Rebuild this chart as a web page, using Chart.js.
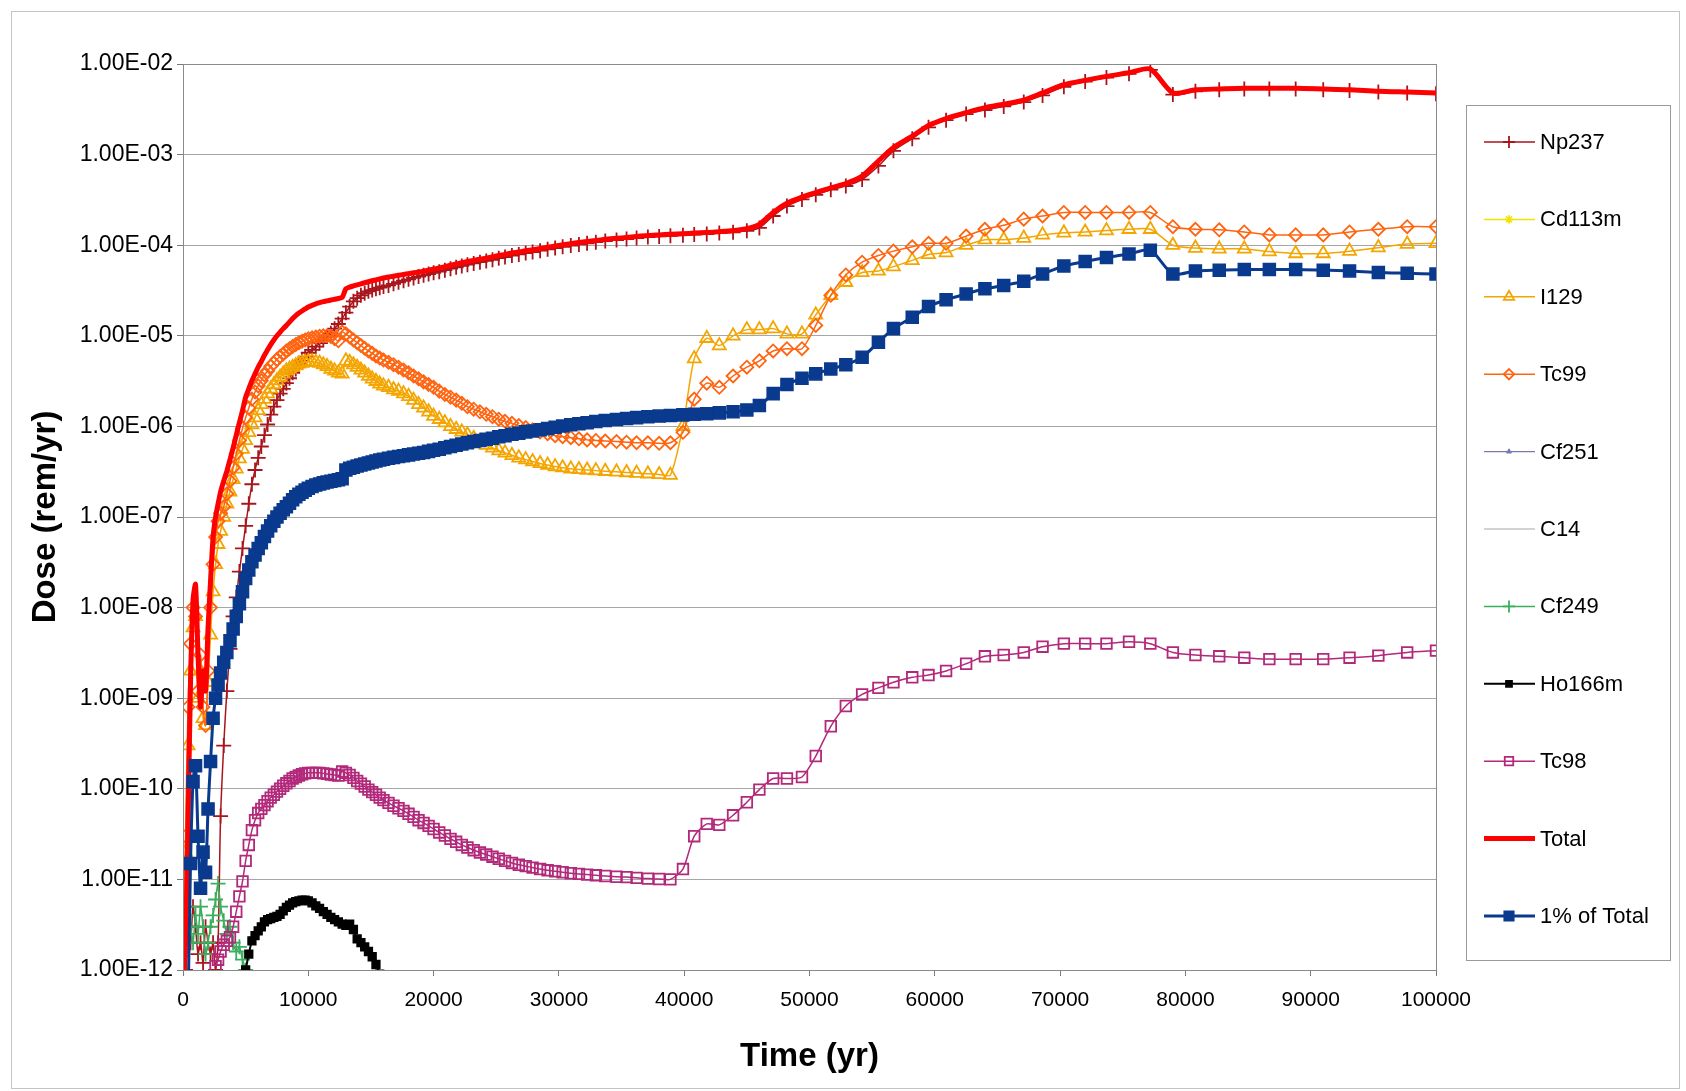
<!DOCTYPE html>
<html lang="en">
<head>
<meta charset="UTF-8" />
<title>Dose vs Time</title>
<script src="https://cdn.jsdelivr.net/npm/chart.js@4.4.1/dist/chart.umd.min.js"></script>
<style>
  html, body { margin: 0; padding: 0; background: #fff; }
  #wrap { position: relative; width: 1686px; height: 1091px; }
  #frame { position: absolute; left: 11px; top: 11px; width: 1667px; height: 1076px; border: 1px solid #c4c4c4; pointer-events: none; }
</style>
</head>
<body>
<div id="wrap">
  <canvas id="chart" width="1686" height="1091"></canvas>
  <div id="frame"></div>
</div>
<script>
// time grid shared by the main series (yr)
const years = [
  0, 200, 400, 600, 800, 1000, 1200, 1400, 1600, 1800, 2000, 2200, 2400, 2600, 2800, 3000,
  3250, 3500, 3750, 4000, 4250, 4500, 4750, 5000, 5250, 5500, 5750, 6000, 6250, 6500,
  6750, 7000, 7250, 7500, 7750, 8000, 8250, 8500, 8750, 9000, 9250, 9500, 9750, 10000,
  10300, 10600, 10900, 11200, 11500, 11800, 12100, 12400, 12700, 13000,
  13300, 13600, 13900, 14200, 14500, 14800, 15100, 15400, 15700, 16000,
  16400, 16800, 17200, 17600, 18000, 18400, 18800, 19200, 19600, 20000,
  20450, 20900, 21350, 21800, 22250, 22700, 23200, 23700, 24200, 24700,
  25200, 25700, 26250, 26800, 27350, 27900, 28500, 29100, 29700, 30300,
  30950, 31600, 32250, 32950, 33700, 34600, 35400, 36200, 37100, 38000,
  38900, 39900,
  40800, 41800, 42800, 43900, 45000, 46000, 47100, 48200, 49400,
  50500, 51700, 52900, 54200, 55500, 56700, 58200, 59500, 60900, 62500,
  64000, 65500, 67100, 68600, 70300, 72000, 73700, 75500, 77200, 79000,
  80800, 82700, 84700, 86700, 88800, 91000, 93100, 95400, 97700, 100000
];

const np237 = [
  5e-13, 1e-12, 3e-12, 2e-12, 5e-12, 3e-12, 1.5e-12, 2e-12, 1.2e-12, 3e-12, 2e-12, 1.5e-12, 2e-12, 1e-12, 2e-12, 5e-11,
  3e-10, 1.2e-9, 3.5e-9, 8e-9, 1.3e-8, 2.5e-8, 4.5e-8, 8e-8, 1.4e-7, 2.3e-7, 3.3e-7, 4.5e-7, 6e-7, 8e-7,
  1.05e-6, 1.35e-6, 1.65e-6, 1.95e-6, 2.3e-6, 2.6e-6, 3e-6, 3.4e-6, 3.9e-6, 4.3e-6, 4.8e-6, 5.3e-6, 5.9e-6, 6.5e-6,
  7e-6, 7.6e-6, 8.3e-6, 9e-6, 9.8e-6, 1.07e-5, 1.2e-5, 1.35e-5, 1.55e-5, 1.8e-5,
  2.1e-5, 2.4e-5, 2.6e-5, 2.8e-5, 2.95e-5, 3.1e-5, 3.2e-5, 3.3e-5, 3.4e-5, 3.5e-5,
  3.6e-5, 3.75e-5, 3.9e-5, 4.05e-5, 4.2e-5, 4.35e-5, 4.5e-5, 4.65e-5, 4.8e-5, 4.95e-5,
  5.1e-5, 5.3e-5, 5.5e-5, 5.7e-5, 5.9e-5, 6.1e-5, 6.3e-5, 6.5e-5, 6.7e-5, 6.9e-5,
  7.2e-5, 7.4e-5, 7.7e-5, 7.9e-5, 8.2e-5, 8.4e-5, 8.7e-5, 9e-5, 9.3e-5, 9.6e-5,
  9.9e-5, 1.02e-4, 1.05e-4, 1.08e-4, 1.11e-4, 1.14e-4, 1.17e-4, 1.2e-4, 1.23e-4, 1.25e-4,
  1.27e-4, 1.29e-4,
  1.31e-4, 1.33e-4, 1.36e-4, 1.39e-4, 1.44e-4, 1.55e-4, 2.1e-4, 2.7e-4, 3.2e-4,
  3.6e-4, 4.1e-4, 4.5e-4, 5.3e-4, 7.5e-4, 1.1e-3, 1.5e-3, 2e-3, 2.4e-3, 2.8e-3,
  3.1e-3, 3.4e-3, 3.8e-3, 4.5e-3, 5.6e-3, 6.4e-3, 7.1e-3, 7.8e-3, 8.6e-3, 4.6e-3,
  5e-3, 5.2e-3, 5.3e-3, 5.3e-3, 5.3e-3, 5.2e-3, 5.1e-3, 4.9e-3, 4.8e-3, 4.7e-3
];

const i129 = [
  1e-12, 2e-11, 3e-10, 2e-9, 6e-9, 8e-9, 1e-9, 2e-9, 6e-10, 5e-10, 1.5e-9, 5e-9, 1.5e-8, 3e-8, 5e-8, 7e-8,
  1e-7, 1.4e-7, 1.9e-7, 2.6e-7, 3.4e-7, 4.4e-7, 5.6e-7, 7e-7, 8.6e-7, 1.05e-6, 1.25e-6, 1.5e-6, 1.75e-6, 2e-6,
  2.3e-6, 2.6e-6, 2.9e-6, 3.2e-6, 3.5e-6, 3.8e-6, 4.1e-6, 4.3e-6, 4.5e-6, 4.7e-6, 4.9e-6, 5e-6, 5.1e-6, 5.2e-6,
  5.2e-6, 5.1e-6, 5e-6, 4.8e-6, 4.6e-6, 4.3e-6, 4.1e-6, 3.9e-6, 3.8e-6, 5.3e-6,
  5.1e-6, 4.8e-6, 4.5e-6, 4.2e-6, 3.9e-6, 3.6e-6, 3.35e-6, 3.15e-6, 2.95e-6, 2.8e-6,
  2.7e-6, 2.55e-6, 2.45e-6, 2.3e-6, 2.15e-6, 1.95e-6, 1.75e-6, 1.6e-6, 1.45e-6, 1.3e-6,
  1.2e-6, 1.1e-6, 1e-6, 9.3e-7, 8.7e-7, 8.1e-7, 7.4e-7, 6.8e-7, 6.2e-7, 5.8e-7,
  5.4e-7, 5.1e-7, 4.8e-7, 4.5e-7, 4.3e-7, 4.1e-7, 3.9e-7, 3.75e-7, 3.6e-7, 3.5e-7,
  3.4e-7, 3.35e-7, 3.3e-7, 3.25e-7, 3.2e-7, 3.15e-7, 3.1e-7, 3.05e-7, 3e-7, 2.95e-7,
  2.9e-7, 1e-6,
  5.6e-6, 9.4e-6, 7.8e-6, 1e-5, 1.17e-5, 1.17e-5, 1.2e-5, 1.05e-5, 1.05e-5,
  1.7e-5, 2.8e-5, 3.9e-5, 5e-5, 5.2e-5, 5.8e-5, 6.8e-5, 7.9e-5, 8.3e-5, 1e-4,
  1.15e-4, 1.15e-4, 1.2e-4, 1.3e-4, 1.37e-4, 1.4e-4, 1.45e-4, 1.5e-4, 1.5e-4, 1e-4,
  9.3e-5, 9.1e-5, 9.1e-5, 8.5e-5, 8.1e-5, 8.1e-5, 8.6e-5, 9.4e-5, 1.03e-4, 1.05e-4
];

const tc99 = [
  1.5e-12, 3e-11, 8e-10, 4e-9, 1e-8, 8e-9, 1.2e-9, 3e-9, 8e-10, 5e-10, 2e-9, 1e-8, 3e-8, 6e-8, 9e-8, 1.1e-7,
  1.3e-7, 1.8e-7, 2.5e-7, 3.5e-7, 5e-7, 7e-7, 9.5e-7, 1.25e-6, 1.6e-6, 2e-6, 2.4e-6, 2.8e-6, 3.2e-6, 3.7e-6,
  4.1e-6, 4.6e-6, 5e-6, 5.5e-6, 5.9e-6, 6.3e-6, 6.8e-6, 7.2e-6, 7.6e-6, 8e-6, 8.4e-6, 8.7e-6, 9e-6, 9.3e-6,
  9.5e-6, 9.7e-6, 9.9e-6, 1e-5, 1e-5, 9.8e-6, 9.3e-6, 8.8e-6, 1.1e-5, 1.05e-5,
  9.7e-6, 9e-6, 8.4e-6, 7.8e-6, 7.3e-6, 6.8e-6, 6.4e-6, 6e-6, 5.7e-6, 5.4e-6,
  5.1e-6, 4.8e-6, 4.5e-6, 4.2e-6, 3.9e-6, 3.6e-6, 3.35e-6, 3.1e-6, 2.9e-6, 2.7e-6,
  2.45e-6, 2.25e-6, 2.1e-6, 1.95e-6, 1.8e-6, 1.65e-6, 1.55e-6, 1.45e-6, 1.36e-6, 1.28e-6,
  1.2e-6, 1.14e-6, 1.08e-6, 1.02e-6, 9.7e-7, 9.2e-7, 8.7e-7, 8.3e-7, 7.9e-7, 7.7e-7,
  7.5e-7, 7.3e-7, 7.1e-7, 7e-7, 6.9e-7, 6.8e-7, 6.7e-7, 6.6e-7, 6.6e-7, 6.5e-7,
  6.6e-7, 8.6e-7,
  2e-6, 3e-6, 2.7e-6, 3.6e-6, 4.5e-6, 5.3e-6, 6.8e-6, 7.2e-6, 7.2e-6,
  1.3e-5, 2.8e-5, 4.7e-5, 6.5e-5, 7.7e-5, 8.6e-5, 9.6e-5, 1.05e-4, 1.05e-4, 1.26e-4,
  1.5e-4, 1.66e-4, 1.94e-4, 2.1e-4, 2.3e-4, 2.3e-4, 2.3e-4, 2.3e-4, 2.3e-4, 1.6e-4,
  1.5e-4, 1.48e-4, 1.4e-4, 1.3e-4, 1.3e-4, 1.3e-4, 1.4e-4, 1.5e-4, 1.6e-4, 1.6e-4
];

const tc98 = [
  null, null, null, null, null, null, null, null, null, null, null, null, null, 1.1e-12, 1.3e-12, 1.6e-12,
  1.9e-12, 2.1e-12, 2.3e-12, 3e-12, 4.4e-12, 6.5e-12, 9.5e-12, 1.6e-11, 2.4e-11, 3.5e-11, 4.5e-11, 5.4e-11, 6e-11, 6.6e-11,
  7.3e-11, 8e-11, 8.6e-11, 9.3e-11, 1e-10, 1.08e-10, 1.15e-10, 1.22e-10, 1.3e-10, 1.35e-10, 1.4e-10, 1.45e-10, 1.48e-10, 1.5e-10,
  1.5e-10, 1.5e-10, 1.5e-10, 1.48e-10, 1.46e-10, 1.44e-10, 1.42e-10, 1.4e-10, 1.55e-10, 1.5e-10,
  1.42e-10, 1.32e-10, 1.22e-10, 1.14e-10, 1.06e-10, 9.8e-11, 9.2e-11, 8.6e-11, 8e-11, 7.5e-11,
  7e-11, 6.5e-11, 6.1e-11, 5.7e-11, 5.3e-11, 4.9e-11, 4.5e-11, 4.2e-11, 3.9e-11, 3.6e-11,
  3.3e-11, 3.05e-11, 2.8e-11, 2.6e-11, 2.4e-11, 2.25e-11, 2.1e-11, 1.98e-11, 1.88e-11, 1.78e-11,
  1.69e-11, 1.6e-11, 1.52e-11, 1.45e-11, 1.4e-11, 1.35e-11, 1.3e-11, 1.26e-11, 1.23e-11, 1.2e-11,
  1.17e-11, 1.15e-11, 1.13e-11, 1.11e-11, 1.09e-11, 1.07e-11, 1.06e-11, 1.04e-11, 1.02e-11, 1.01e-11,
  1e-11, 1.3e-11,
  3e-11, 4.1e-11, 4e-11, 5.1e-11, 7.1e-11, 9.8e-11, 1.3e-10, 1.3e-10, 1.35e-10,
  2.3e-10, 4.9e-10, 8.2e-10, 1.1e-9, 1.3e-9, 1.5e-9, 1.7e-9, 1.8e-9, 2e-9, 2.4e-9,
  2.9e-9, 3e-9, 3.2e-9, 3.7e-9, 4e-9, 4e-9, 4e-9, 4.2e-9, 4e-9, 3.2e-9,
  3e-9, 2.9e-9, 2.8e-9, 2.7e-9, 2.7e-9, 2.7e-9, 2.8e-9, 2.95e-9, 3.2e-9, 3.35e-9
];

const total = [
  5e-13, 2e-12, 4e-11, 1.5e-9, 1.2e-8, 1.8e-8, 3e-9, 8e-10, 2e-9, 1.2e-9, 6e-9, 2e-8, 6e-8, 1e-7, 1.4e-7, 1.9e-7,
  2.5e-7, 3.2e-7, 4.3e-7, 5.8e-7, 8e-7, 1.1e-6, 1.5e-6, 2.1e-6, 2.6e-6, 3.2e-6, 3.8e-6, 4.5e-6, 5.2e-6, 6.1e-6,
  7e-6, 8e-6, 9e-6, 1e-5, 1.1e-5, 1.2e-5, 1.3e-5, 1.42e-5, 1.55e-5, 1.67e-5, 1.78e-5, 1.88e-5, 1.98e-5, 2.08e-5,
  2.17e-5, 2.25e-5, 2.32e-5, 2.38e-5, 2.43e-5, 2.48e-5, 2.53e-5, 2.58e-5, 2.65e-5, 3.3e-5,
  3.45e-5, 3.55e-5, 3.65e-5, 3.75e-5, 3.85e-5, 3.95e-5, 4.05e-5, 4.15e-5, 4.25e-5, 4.35e-5,
  4.45e-5, 4.55e-5, 4.65e-5, 4.75e-5, 4.85e-5, 4.95e-5, 5.05e-5, 5.15e-5, 5.3e-5, 5.45e-5,
  5.6e-5, 5.8e-5, 6e-5, 6.2e-5, 6.4e-5, 6.6e-5, 6.8e-5, 7e-5, 7.2e-5, 7.4e-5,
  7.7e-5, 7.9e-5, 8.2e-5, 8.4e-5, 8.7e-5, 8.9e-5, 9.2e-5, 9.5e-5, 9.8e-5, 1.01e-4,
  1.04e-4, 1.07e-4, 1.1e-4, 1.13e-4, 1.16e-4, 1.19e-4, 1.22e-4, 1.25e-4, 1.28e-4, 1.3e-4,
  1.32e-4, 1.34e-4,
  1.36e-4, 1.38e-4, 1.41e-4, 1.45e-4, 1.52e-4, 1.7e-4, 2.3e-4, 2.9e-4, 3.4e-4,
  3.8e-4, 4.3e-4, 4.8e-4, 5.8e-4, 8.5e-4, 1.2e-3, 1.6e-3, 2.1e-3, 2.5e-3, 2.9e-3,
  3.3e-3, 3.6e-3, 4e-3, 4.8e-3, 5.9e-3, 6.6e-3, 7.3e-3, 8e-3, 8.8e-3, 4.8e-3,
  5.2e-3, 5.3e-3, 5.4e-3, 5.4e-3, 5.4e-3, 5.3e-3, 5.2e-3, 5e-3, 4.9e-3, 4.8e-3
];

const onePctTotal = [
  5e-15, 2e-14, 4e-13, 1.5e-11, 1.2e-10, 1.8e-10, 3e-11, 8e-12, 2e-11, 1.2e-11, 6e-11, 2e-10, 6e-10, 1e-9, 1.4e-9, 1.9e-9,
  2.5e-9, 3.2e-9, 4.3e-9, 5.8e-9, 8e-9, 1.1e-8, 1.5e-8, 2.1e-8, 2.6e-8, 3.2e-8, 3.8e-8, 4.5e-8, 5.2e-8, 6.1e-8,
  7e-8, 8e-8, 9e-8, 1e-7, 1.1e-7, 1.2e-7, 1.3e-7, 1.42e-7, 1.55e-7, 1.67e-7, 1.78e-7, 1.88e-7, 1.98e-7, 2.08e-7,
  2.17e-7, 2.25e-7, 2.32e-7, 2.38e-7, 2.43e-7, 2.48e-7, 2.53e-7, 2.58e-7, 2.65e-7, 3.3e-7,
  3.45e-7, 3.55e-7, 3.65e-7, 3.75e-7, 3.85e-7, 3.95e-7, 4.05e-7, 4.15e-7, 4.25e-7, 4.35e-7,
  4.45e-7, 4.55e-7, 4.65e-7, 4.75e-7, 4.85e-7, 4.95e-7, 5.05e-7, 5.15e-7, 5.3e-7, 5.45e-7,
  5.6e-7, 5.8e-7, 6e-7, 6.2e-7, 6.4e-7, 6.6e-7, 6.8e-7, 7e-7, 7.2e-7, 7.4e-7,
  7.7e-7, 7.9e-7, 8.2e-7, 8.4e-7, 8.7e-7, 8.9e-7, 9.2e-7, 9.5e-7, 9.8e-7, 1.01e-6,
  1.04e-6, 1.07e-6, 1.1e-6, 1.13e-6, 1.16e-6, 1.19e-6, 1.22e-6, 1.25e-6, 1.28e-6, 1.3e-6,
  1.32e-6, 1.34e-6,
  1.36e-6, 1.38e-6, 1.41e-6, 1.45e-6, 1.52e-6, 1.7e-6, 2.3e-6, 2.9e-6, 3.4e-6,
  3.8e-6, 4.3e-6, 4.8e-6, 5.8e-6, 8.5e-6, 1.2e-5, 1.6e-5, 2.1e-5, 2.5e-5, 2.9e-5,
  3.3e-5, 3.6e-5, 4e-5, 4.8e-5, 5.9e-5, 6.6e-5, 7.3e-5, 8e-5, 8.8e-5, 4.8e-5,
  5.2e-5, 5.3e-5, 5.4e-5, 5.4e-5, 5.4e-5, 5.3e-5, 5.2e-5, 5e-5, 4.9e-5, 4.8e-5
];

// short-lived series on their own time grids
const hoYears = [5000, 5250, 5500, 5750, 6000, 6250, 6500, 6750, 7000, 7250, 7500, 7750, 8000, 8250, 8500, 8750, 9000, 9250, 9500, 9750,
  10000, 10300, 10600, 10900, 11200, 11500, 11800, 12100, 12400, 12700, 13000, 13300, 13600, 13900, 14200, 14500, 14800, 15100, 15400, 15700, 16000, 16400];
const ho166m = [1e-12, 1.5e-12, 2.1e-12, 2.4e-12, 2.7e-12, 3e-12, 3.4e-12, 3.6e-12, 3.7e-12, 3.8e-12, 3.9e-12, 4.1e-12, 4.5e-12, 4.9e-12, 5.2e-12, 5.5e-12, 5.7e-12, 5.8e-12, 5.9e-12, 5.9e-12,
  5.8e-12, 5.5e-12, 5.1e-12, 4.8e-12, 4.4e-12, 4.1e-12, 3.8e-12, 3.6e-12, 3.4e-12, 3.2e-12, 3.1e-12, 3.2e-12, 2.8e-12, 2.2e-12, 2e-12, 1.8e-12, 1.6e-12, 1.4e-12, 1.15e-12, 9e-13, 7e-13, 5e-13];

const cfYears = [0, 200, 400, 600, 800, 1000, 1200, 1400, 1600, 1800, 2000, 2200, 2400, 2600, 2800, 3000, 3250, 3500, 3750, 4000, 4250, 4500, 4750, 5000, 5250];
const cf249 = [3e-12, 2e-12, 5e-12, 3e-12, 2e-12, 4e-12, 2.5e-12, 5e-12, 3e-12, 1.5e-12, 2e-12, 3e-12, 4e-12, 6e-12, 9e-12, 5e-12, 3.5e-12, 2.5e-12, 3e-12, 2e-12, 1.6e-12, 1.8e-12, 1.3e-12, 1e-12, 7e-13];

// these stay below the plotted range
const traceYears = [0, 1000, 2000, 3000];
const cd113m = [4e-13, 6e-13, 5e-13, 3e-13];
const cf251 = [3e-13, 5e-13, 4e-13, 2e-13];
const c14 = [2e-13, 3e-13, 3e-13, 2e-13];

const xTicks = [0, 10000, 20000, 30000, 40000, 50000, 60000, 70000, 80000, 90000, 100000];
const yTicks = [1e-12, 1e-11, 1e-10, 1e-9, 1e-8, 1e-7, 1e-6, 1e-5, 1e-4, 1e-3, 1e-2];

function pts(xs, ys) {
  return xs.map((x, i) => ({ x: x, y: ys[i] })).filter(p => p.y !== null);
}

function sci(v) {
  const e = Math.round(Math.log10(v));
  const m = v / Math.pow(10, e);
  return m.toFixed(2) + 'E' + (e < 0 ? '-' : '+') + String(Math.abs(e)).padStart(2, '0');
}

const hollow = 'rgba(0,0,0,0)';
function series(label, data, color, style, radius, fill, lineW, markW) {
  return {
    label: label, data: data,
    borderColor: color, borderWidth: lineW,
    pointStyle: style, pointRadius: radius, pointHoverRadius: radius,
    pointBorderColor: color, pointBorderWidth: markW,
    pointBackgroundColor: fill ? color : hollow,
    backgroundColor: fill ? color : hollow,
    tension: 0.25, fill: false
  };
}

const datasets = [
  series('Np237', pts(years, np237), '#A8161C', 'cross', 7.5, false, 1.5, 1.8),
  series('Cd113m', pts(traceYears, cd113m), '#F2E200', 'star', 5.5, false, 1.5, 1.5),
  series('I129', pts(years, i129), '#F4A500', 'triangle', 7.5, false, 1.5, 1.8),
  series('Tc99', pts(years, tc99), '#FF6410', 'rectRot', 6.5, false, 1.5, 1.8),
  series('Cf251', pts(traceYears, cf251), '#7878B4', 'triangle', 3.5, true, 1.2, 1),
  series('C14', pts(traceYears, c14), '#A8A8A8', 'circle', 0, false, 1.2, 1),
  series('Cf249', pts(cfYears, cf249), '#3CAF5E', 'cross', 7.5, false, 1.5, 1.8),
  series('Ho166m', pts(hoYears, ho166m), '#000000', 'rect', 5.5, true, 2, 1.5),
  series('Tc98', pts(years, tc98), '#B2287A', 'rect', 7.5, false, 1.5, 1.8),
  series('Total', pts(years, total), '#FF0000', 'circle', 0, false, 5, 1),
  series('1% of Total', pts(years, onePctTotal), '#0A3A8E', 'rect', 8.5, true, 3, 1.5)
];
// later series are painted on top, as in the spreadsheet
datasets.forEach((d, i) => { d.order = datasets.length - i; });

const legendBox = { x: 1466, y: 105, w: 204, h: 855 };
const legendMarkScale = 0.8;
const excelLegend = {
  id: 'excelLegend',
  afterDraw(chart) {
    const ctx = chart.ctx;
    const a = chart.chartArea;
    ctx.save();
    // plot frame
    ctx.strokeStyle = '#8a8a8a';
    ctx.lineWidth = 1;
    ctx.strokeRect(Math.round(a.left) + 0.5, Math.round(a.top) + 0.5, Math.round(a.right - a.left), Math.round(a.bottom - a.top));
    // legend
    ctx.fillStyle = '#fff';
    ctx.fillRect(legendBox.x, legendBox.y, legendBox.w, legendBox.h);
    ctx.strokeStyle = '#9a9a9a';
    ctx.strokeRect(legendBox.x + 0.5, legendBox.y + 0.5, legendBox.w, legendBox.h);
    chart.data.datasets.forEach((ds, i) => {
      const y = legendBox.y + 37 + i * 77.4;
      ctx.strokeStyle = ds.borderColor;
      ctx.lineWidth = ds.borderWidth;
      ctx.beginPath();
      ctx.moveTo(1484, y);
      ctx.lineTo(1535, y);
      ctx.stroke();
      if (ds.pointRadius > 0) {
        ctx.fillStyle = ds.pointBackgroundColor;
        ctx.strokeStyle = ds.pointBorderColor;
        ctx.lineWidth = ds.pointBorderWidth;
        Chart.helpers.drawPoint(ctx, { pointStyle: ds.pointStyle, rotation: 0, radius: ds.pointRadius * legendMarkScale, borderWidth: ds.pointBorderWidth }, 1509, y);
      }
      ctx.fillStyle = '#000';
      ctx.font = '22px "Liberation Sans", Arial, sans-serif';
      ctx.textBaseline = 'middle';
      ctx.textAlign = 'left';
      ctx.fillText(ds.label, 1540, y + 1);
    });
    ctx.restore();
  }
};

Chart.defaults.font.family = '"Liberation Sans", Arial, sans-serif';
Chart.defaults.color = '#000';

new Chart(document.getElementById('chart').getContext('2d'), {
  type: 'line',
  data: { datasets: datasets },
  plugins: [excelLegend],
  options: {
    responsive: false,
    animation: false,
    events: [],
    layout: { padding: { left: 20, top: 64, right: 250, bottom: 0 } },
    plugins: { legend: { display: false }, tooltip: { enabled: false } },
    scales: {
      x: {
        type: 'linear', min: 0, max: 100000,
        afterBuildTicks: s => { s.ticks = xTicks.map(v => ({ value: v })); },
        afterFit: s => { s.height = 121; },
        grid: { drawOnChartArea: false, drawTicks: true, tickLength: 6, tickColor: '#7a7a7a' },
        border: { display: true, color: '#7a7a7a', width: 1 },
        ticks: { color: '#000', font: { size: 21 }, padding: 12, maxRotation: 0, autoSkip: false, callback: v => String(v) },
        title: { display: true, text: 'Time (yr)', color: '#000', font: { size: 33, weight: 'bold' }, padding: { top: 0, bottom: 14 } }
      },
      y: {
        type: 'logarithmic', min: 1e-12, max: 1e-2,
        afterBuildTicks: s => { s.ticks = yTicks.map(v => ({ value: v })); },
        afterFit: s => { s.width = 163; },
        grid: { color: '#a6a6a6', lineWidth: 1, drawTicks: true, tickLength: 6, tickColor: '#7a7a7a' },
        border: { display: true, color: '#7a7a7a', width: 1 },
        ticks: { color: '#000', font: { size: 23 }, padding: 4, autoSkip: false, callback: v => sci(v) },
        title: { display: true, text: 'Dose (rem/yr)', color: '#000', font: { size: 33, weight: 'bold' }, padding: { top: 6, bottom: 0 } }
      }
    }
  }
});
</script>
</body>
</html>
